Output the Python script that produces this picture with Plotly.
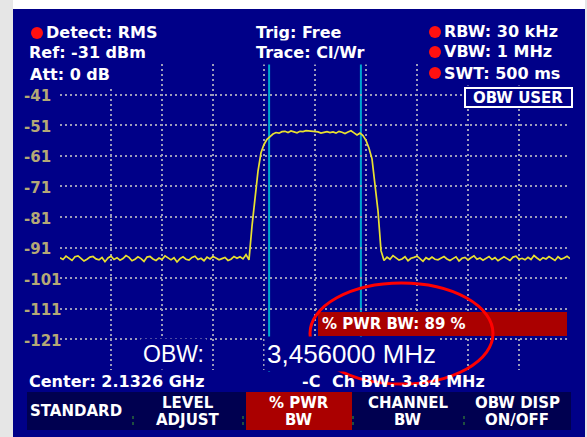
import numpy as np
import plotly.graph_objects as go

# ---------------- data ----------------
center_ghz = 2.1326
span_mhz = 19.2
ref_level_dbm = -31
db_per_div = 10
obw_mhz = 3.456
ch_bw_mhz = 3.84
pwr_bw_pct = 89

y_tick_values = [-41, -51, -61, -71, -81, -91, -101, -111, -121]
y_tick_labels = ["-41", "-51", "-61", "-71", "-81", "-91", "-101", "-111", "-121"]

noise_left = [-94.3, -94.9, -93.8, -94.6, -95.2, -94.0, -93.7, -94.5, -95.4, -94.8,
              -94.1, -93.9, -94.7, -95.0, -94.2, -95.6, -94.4, -93.8, -94.9, -94.3,
              -95.1, -94.6, -93.6, -94.2, -95.3, -94.8, -94.0, -94.6, -95.5, -94.1,
              -93.9, -94.7, -95.2, -94.4, -94.9, -93.7, -94.5, -95.0, -94.3, -95.7,
              -94.6, -94.0, -94.8, -95.1, -94.2, -93.8, -94.9, -94.5, -95.3, -94.1,
              -94.7, -93.9, -94.4, -95.0, -94.6, -94.2, -95.2, -94.8, -93.9, -94.5,
              -94.0, -94.7, -93.3, -95.0]
signal_band = [-84.0, -74.0, -66.0, -60.0, -57.3, -55.6, -54.6, -53.9, -53.4,
               -53.6, -53.1, -53.0, -53.4, -52.9, -53.2, -53.5, -53.0, -53.1, -52.8,
               -52.9, -53.0, -53.0, -53.2, -53.6, -53.3, -53.1, -53.4, -53.2, -53.6,
               -53.0, -53.3, -53.7, -53.2, -52.8, -53.5, -54.2, -53.6,
               -54.4, -56.0, -58.5, -62.0, -70.0, -79.0, -92.0]
noise_right = [-95.2, -94.1, -94.8, -93.6, -94.4, -95.1, -94.7, -94.0, -95.3, -94.5,
               -94.2, -93.8, -94.6, -95.5, -94.3, -94.9, -94.1, -94.8, -95.0, -94.4,
               -93.9, -94.7, -95.2, -94.6, -94.0, -95.4, -94.5, -94.2, -95.0, -94.3,
               -93.7, -94.8, -94.4, -95.1, -94.6, -93.9, -94.9, -94.3, -95.3, -94.7,
               -94.0, -94.6, -95.2, -94.1, -93.8, -94.8, -94.5, -95.0, -94.2, -94.9,
               -93.6, -94.4, -95.1, -94.3, -94.7, -93.9, -94.6, -95.2, -94.0, -94.8,
               -94.4, -93.8, -94.6]

levels = noise_left + signal_band + noise_right
freq_offset_mhz = np.linspace(-span_mhz / 2, span_mhz / 2, len(levels))

softkeys = [["STANDARD"], ["LEVEL", "ADJUST"], ["% PWR", "BW"], ["CHANNEL", "BW"], ["OBW DISP", "ON/OFF"]]

# ---------------- style / layout helpers ----------------
W, H = 587, 437
L, R, T, B = 60, 17, 64, 67
PW, PH = W - L - R, H - T - B
BLUE = "#000088"
DARK = "#000050"
RED = "#aa0000"
WHITE = "#ffffff"
KHAKI = "#b4a876"
GRID = "#9c9cba"
FONT = "DejaVu Sans"


def px(x):
    return (x - L) / PW


def py(y):
    return (H - B - y) / PH


fig = go.Figure()
fig.add_trace(go.Scatter(x=freq_offset_mhz, y=levels, mode="lines",
                         line=dict(color="#e8e030", width=1.7), hoverinfo="skip"))

x_ticks = [(-span_mhz / 2) + i * span_mhz / 10 for i in range(11)]
fig.update_xaxes(range=[-span_mhz / 2 - 1e-6, span_mhz / 2 + 1e-6], tickvals=x_ticks,
                 showticklabels=False, showgrid=True, gridcolor=GRID,
                 griddash="2px,3px", gridwidth=1.5, zeroline=False, showline=False)
fig.update_yaxes(range=[ref_level_dbm - 10 * db_per_div, ref_level_dbm],
                 tickvals=[ref_level_dbm] + y_tick_values, showticklabels=False,
                 showgrid=True, gridcolor=GRID, griddash="2px,3px", gridwidth=1.5,
                 zeroline=False, showline=False)

shapes = []
# outer strips
shapes.append(dict(type="rect", xref="paper", yref="paper", x0=px(0), x1=px(13), y0=py(H), y1=py(0),
                   fillcolor="#e6e6e6", line_width=0, layer="below"))
shapes.append(dict(type="rect", xref="paper", yref="paper", x0=px(13), x1=px(W), y0=py(9), y1=py(0),
                   fillcolor=WHITE, line_width=0, layer="below"))
shapes.append(dict(type="rect", xref="paper", yref="paper", x0=px(585), x1=px(W), y0=py(H), y1=py(0),
                   fillcolor="#e6e6e6", line_width=0, layer="below"))
# OBW cursor lines
for xv in (-obw_mhz / 2, obw_mhz / 2):
    shapes.append(dict(type="line", xref="x", yref="paper", x0=xv, x1=xv, y0=py(372), y1=1,
                       line=dict(color="#00a8d0", width=2), layer="below"))
# softkey bar
shapes.append(dict(type="rect", xref="paper", yref="paper", x0=px(27), x1=px(571), y0=py(430), y1=py(392),
                   fillcolor=DARK, line_width=0))
shapes.append(dict(type="rect", xref="paper", yref="paper", x0=px(246), x1=px(352), y0=py(430), y1=py(392),
                   fillcolor=RED, line_width=0))
for sx in (133, 243, 353, 464):
    shapes.append(dict(type="line", xref="paper", yref="paper", x0=px(sx), x1=px(sx), y0=py(425), y1=py(414),
                       line=dict(color="#2a6a3a", width=1.5, dash="dot")))
# % PWR BW bar
shapes.append(dict(type="rect", xref="paper", yref="paper", x0=px(318), x1=px(567), y0=py(336), y1=py(312),
                   fillcolor=RED, line_width=0))
# OBW USER box
shapes.append(dict(type="rect", xref="paper", yref="paper", x0=px(465), x1=px(572), y0=py(107), y1=py(88),
                   fillcolor=BLUE, line=dict(color=WHITE, width=2)))
# red dots
for cx, cy in ((37, 33), (435, 32), (435, 52), (435, 73)):
    shapes.append(dict(type="circle", xref="paper", yref="paper", x0=px(cx - 6), x1=px(cx + 6),
                       y0=py(cy + 6), y1=py(cy - 6), fillcolor="#ff1010", line_width=0))

annotations = []


def txt(text, x, y, size=16, color=WHITE, anchor="left", bold=True, bg=BLUE, pad=2, family=FONT):
    annotations.append(dict(text=f"<b>{text}</b>" if bold else text, xref="paper", yref="paper",
                            x=px(x), y=py(y), xanchor=anchor, yanchor="middle", showarrow=False,
                            font=dict(family=family, size=size, color=color),
                            bgcolor=bg, borderpad=pad))


txt("Detect: RMS", 43, 33)
txt("Ref: -31 dBm", 26, 53)
txt("Att: 0 dB", 26, 74, pad=3)
txt("Trig: Free", 253, 33)
txt("Trace: Cl/Wr", 253, 53)
txt(f"RBW: 30 kHz", 441, 32)
txt(f"VBW: 1 MHz", 441, 52)
txt(f"SWT: 500 ms", 441, 73)
txt("OBW USER", 518, 98, size=15, anchor="center", bg=None, pad=0)

for v, lab in zip(y_tick_values, y_tick_labels):
    annotations.append(dict(text=f"<b>{lab}</b>", xref="paper", yref="y", x=px(22), y=v - 0.5,
                            xanchor="left", yanchor="middle", showarrow=False,
                            font=dict(family=FONT, size=15, color=KHAKI)))

txt("OBW:", 140, 354, size=23, bold=False, family="Liberation Sans")
txt(f"{obw_mhz:.6f}".replace(".", ",") + " MHz", 264, 354, size=26, bold=False, family="Liberation Sans")
txt(f"Center: {center_ghz} GHz", 26, 381, bg=None)
txt("-C", 299, 381, bg=None)
txt(f"Ch BW: {ch_bw_mhz} MHz", 329, 381, bg=None)
txt(f"% PWR BW: {pwr_bw_pct} %", 321, 324, size=15, bg=None, pad=0)

key_centers = [76, 188, 299, 408, 517]
for cx, lines in zip(key_centers, softkeys):
    if len(lines) == 1:
        txt(lines[0], cx, 411, size=15, anchor="center", bg=None, pad=0)
    else:
        txt(lines[0], cx, 403, size=15, anchor="center", bg=None, pad=0)
        txt(lines[1], cx, 420, size=15, anchor="center", bg=None, pad=0)

# red highlight ellipse
shapes.append(dict(type="circle", xref="paper", yref="paper", x0=px(310), x1=px(493), y0=py(384), y1=py(283),
                   line=dict(color="#ff0000", width=3), fillcolor="rgba(0,0,0,0)"))

fig.update_layout(width=W, height=H, margin=dict(l=L, r=R, t=T, b=B, pad=0),
                  paper_bgcolor=BLUE, plot_bgcolor=BLUE, showlegend=False,
                  shapes=shapes, annotations=annotations)

fig.write_html("out.html", config={"displayModeBar": False},
               post_script="document.body.style.margin='0';document.body.style.overflow='hidden';")
